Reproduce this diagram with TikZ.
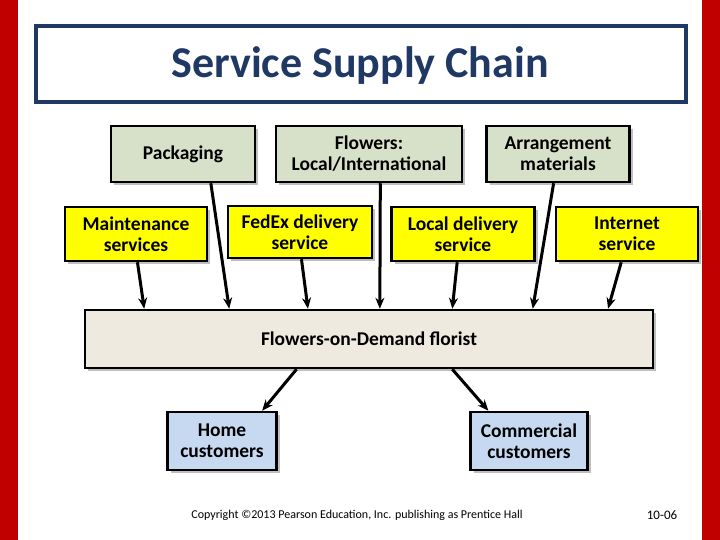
\documentclass[tikz,border=0pt]{standalone}
\usepackage{fontspec}
\setmainfont{Carlito}
\usetikzlibrary{calc,shadows,arrows.meta}
\definecolor{slidered}{HTML}{C00000}
\definecolor{titleblue}{HTML}{1F3864}
\definecolor{supgreen}{HTML}{D7E0C8}
\definecolor{supyellow}{HTML}{FFFF00}
\definecolor{florbg}{HTML}{EEEAE0}
\definecolor{custblue}{HTML}{C6D9F1}
\tikzset{
  box/.style={draw,line width=2.5pt,align=center,font=\fontsize{19.5}{21}\selectfont\bfseries,
    drop shadow={shadow xshift=3pt,shadow yshift=-3pt,opacity=0.5}},
  supplier/.style={box,fill=supgreen},
  service/.style={box,fill=supyellow},
  customer/.style={box,fill=custblue},
  flow/.style={line width=3pt,-{Stealth[length=11pt,width=9pt]}}
}
\begin{document}
\begin{tikzpicture}[x=1pt,y=-1pt]
\useasboundingbox (0,0) rectangle (720,540);
\fill[slidered] (0,0) rectangle (18,540);
\fill[slidered] (702,0) rectangle (720,540);
\draw[titleblue,line width=3.5pt] (36,26) rectangle (686,102);
\node[text=titleblue,font=\fontsize{44}{48}\selectfont\bfseries] (title) at (360,66) {Service Supply Chain};
% suppliers
\node[supplier,minimum width=144pt,minimum height=56pt] (pack) at (183,154) {Packaging};
\node[supplier,minimum width=186pt,minimum height=56pt] (flowers) at (369,154) {Flowers:\\Local/International};
\node[supplier,minimum width=143pt,minimum height=56pt] (arrange) at (558,154) {Arrangement\\materials};
% services
\node[service,minimum width=142pt,minimum height=54pt] (maint) at (136,234) {Maintenance\\services};
\node[service,minimum width=144pt,minimum height=52pt] (fedex) at (300,232) {FedEx delivery\\service};
\node[service,minimum width=143pt,minimum height=54pt] (local) at (463,234) {Local delivery\\service};
\node[service,minimum width=142pt,minimum height=54pt] (inet) at (627,234) {Internet\\service};
% florist
\node[box,fill=florbg,minimum width=568pt,minimum height=58pt] (florist) at (369,339) {Flowers-on-Demand florist};
% customers
\node[customer,minimum width=109pt,minimum height=58pt] (home) at (222,441) {Home\\customers};
\node[customer,minimum width=117pt,minimum height=58pt] (comm) at (529,441) {Commercial\\customers};
% arrows
\draw[flow] ($(maint.south west)!0.51!(maint.south east)$) -- ($(florist.north west)!0.106!(florist.north east)$);
\draw[flow] ($(pack.south west)!0.69!(pack.south east)$) -- ($(florist.north west)!0.255!(florist.north east)$);
\draw[flow] ($(fedex.south west)!0.51!(fedex.south east)$) -- ($(florist.north west)!0.393!(florist.north east)$);
\draw[flow] ($(flowers.south west)!0.56!(flowers.south east)$) -- ($(florist.north west)!0.519!(florist.north east)$);
\draw[flow] ($(local.south west)!0.46!(local.south east)$) -- ($(florist.north west)!0.646!(florist.north east)$);
\draw[flow] ($(arrange.south west)!0.47!(arrange.south east)$) -- ($(florist.north west)!0.787!(florist.north east)$);
\draw[flow] ($(inet.south west)!0.46!(inet.south east)$) -- ($(florist.north west)!0.919!(florist.north east)$);
\draw[flow] ($(florist.south west)!0.373!(florist.south east)$) -- ($(home.north west)!0.86!(home.north east)$);
\draw[flow] ($(florist.south west)!0.646!(florist.south east)$) -- ($(comm.north west)!0.16!(comm.north east)$);
% footer
\node[font=\fontsize{12}{14}\selectfont] (copy) at (357,515) {Copyright ©2013 Pearson Education, Inc. publishing as Prentice Hall};
\node[font=\fontsize{13}{15}\selectfont] (slide) at (662,515) {10-06};
\end{tikzpicture}
\end{document}
